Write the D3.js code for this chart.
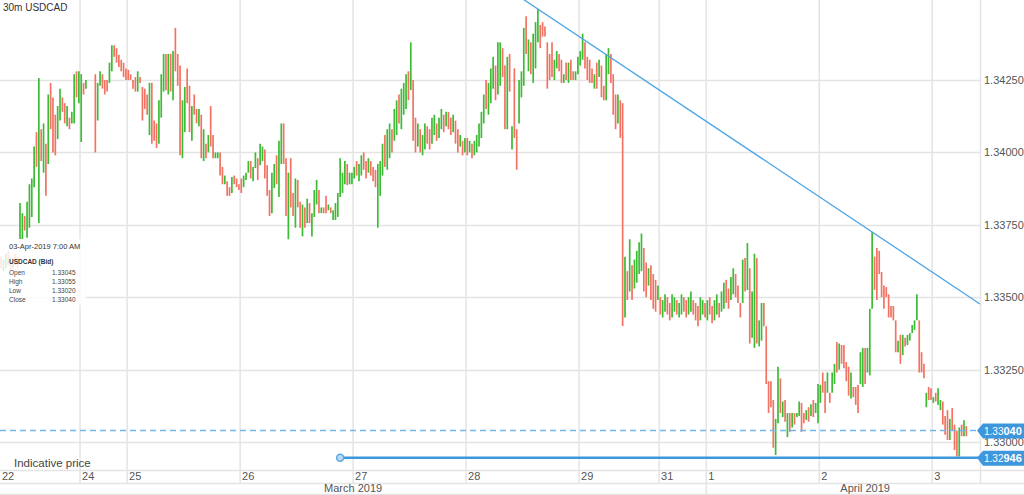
<!DOCTYPE html>
<html>
<head>
<meta charset="utf-8">
<script src="https://cdn.jsdelivr.net/npm/d3@7"></script>
<style>
  body { margin: 0; background: #fff; }
  svg { display: block; font-family: "Liberation Sans", Arial, sans-serif; }
</style>
</head>
<body>
<div id="chart"></div>
<script>
// 30m USDCAD bars, one array per trading day.
// each bar: [low, high, 'g' up / 'r' down], prices in pips above 1.3300
const mar22 = [
  [60,64,'r'],[59,63,'g'],[60,65,'g'],[61,66,'r'],[59,64,'r'],[60,63,'g'],[61,65,'r'],[60,64,'r'],
  [70,82.5,'g'],[70,79,'g'],[73,78,'r'],[70.5,83,'g'],[74,89,'g'],[77.7,91,'g'],[88,102,'g'],[95,107,'r'],
  [75.6,125.7,'g'],[97,108,'r'],[93,110,'g'],[85,103,'r'],[96,120,'g'],[108,124,'r'],[100,119,'r'],[99,113,'r'],
  [104.6,116,'g'],[111,122,'g'],[114,119,'r'],[110,117,'r'],[109,116,'g'],[108,112,'r'],[110,114,'g'],[110,127,'g'],
  [119,128,'r'],[117,128,'g']
];
const mar24 = [
  [103.6,127,'g'],[120,124,'r'],[122,125,'g'],null,null,null,
  [100,127,'r'],[111,124,'g'],[123,128,'g'],[122,127,'r'],[120,125,'r'],[121,125,'r'],[124,131,'g'],[128,137,'g'],
  [133,137,'r'],[131,136,'r'],[129.5,133.7,'r'],[128,132,'r'],[126,131,'r'],[125,129,'r']
];
const mar25 = [
  [125,128.5,'r'],[125,127,'r'],[122,125,'r'],[121,126,'r'],[121,128,'g'],[124,126,'r'],[111,122.6,'r'],[115,122,'r'],
  [113,120,'r'],[106,124,'g'],[103,124,'r'],[104,111,'r'],[101.5,110,'r'],[103,118,'g'],[112,127,'g'],[121,134,'g'],
  [121.5,134,'r'],[120,134,'g'],[121,134,'r'],[118,135,'g'],[128,143,'r'],[123,134,'r'],[99,130,'r'],[98,118,'g'],
  [107,122.6,'g'],[117,129,'r'],[107,123,'r'],[104,116,'g'],[113,120,'r'],[110,115,'r'],[109,115,'g'],[98,113,'r'],
  [97,108,'g'],[98,103,'r'],[100,106,'g'],[102,116,'r'],[98,106,'r'],[98,100,'g'],[98,100,'g'],[92,100,'r'],
  [89,95,'r'],[89,92,'g'],[85,90,'r'],[85,88,'r'],[86,91.5,'g'],[89,92,'r'],[88,91,'r'],[87,89,'r']
];
const mar26 = [
  [86,91,'r'],[88,92,'g'],[90.5,93,'g'],[93,97,'g'],[91,97,'r'],[90,95,'g'],[94.6,100,'g'],[90.5,98,'r'],
  [95.6,103,'g'],[97,102,'g'],[91,101,'r'],[85,95.6,'r'],[78,87,'r'],[79,93,'g'],[87.7,96,'g'],[89,99,'r'],
  [84.6,104,'g'],[96,110,'g'],[96,110,'r'],[78,98,'r'],[70,93,'g'],[81,98,'r'],[78,86,'r'],[74,91,'g'],
  [81,90.5,'r'],[74,83,'r'],[71,82,'g'],[74,81,'r'],[75.6,84,'g'],[75.6,82.5,'r'],[71,79,'g'],[77.7,87,'g'],
  [82,90.5,'g'],[79,87,'r'],[79,81,'g'],[79,81,'r'],[79,85,'r'],[80,82,'g'],[79,81,'r'],[76.7,80,'g'],
  [76.7,82.5,'g'],[77.7,86,'g'],[84.6,98,'g'],[86,93,'g'],[89,97,'g'],[88.7,96,'r'],[89,93,'g'],[89,93,'g']
];
const mar27 = [
  [91,95,'g'],[92,97,'r'],[90,96,'g'],[92,99,'g'],[94,100,'r'],[91,97,'r'],[93,98,'g'],[92,97,'r'],
  [90,95,'r'],[88,94,'r'],[74,96,'g'],[85,97,'g'],[92,103,'g'],[95,106,'r'],[94,108,'g'],[98,110,'g'],
  [100,108,'r'],[104,115,'g'],[106,118,'g'],[110,120,'r'],[108,122,'g'],[113,124,'g'],[115,127,'g'],[118,128,'r'],
  [121.5,138,'g'],[104,125,'r'],[100,112,'r'],[102,110,'g'],[100,108,'r'],[99,106,'g'],[101,110,'g'],[103,109,'r'],
  [101,108,'r'],[103,112,'g'],[106,113,'g'],[104,110,'r'],[105,112,'g'],[108,115,'g'],[107,113,'r'],[109,114,'g'],
  [108,114,'r'],[106,112,'r'],[107,113,'g'],[103,111,'r'],[100,108,'r'],[102,106,'g'],[99,104,'r'],[100,105,'g']
];
const mar28 = [
  [99,105,'r'],[100,104,'g'],[98,103,'r'],[99,104,'g'],[100,106,'g'],[102,110,'g'],[105,114,'g'],[110,120,'g'],
  [115,125,'r'],[113,124,'g'],[117,129,'g'],[122,133,'g'],[118,130,'r'],[120,138,'g'],
  [123,138,'g'],[126,136,'r'],[108,130,'r'],[108,133,'g'],[121,134,'r'],[101,109,'g'],[105,129,'r'],[94,108,'r'],
  [110,125,'g'],[119,128,'g'],[123,143,'g'],[134,147,'r'],[128,139,'g'],[127,138,'r'],[124,141,'g'],[129,145,'g'],
  [138,149.5,'g'],[136,144,'r'],[140,145,'r'],[140,143.5,'r'],[122,138,'r'],[125,134,'r'],[126,138,'r'],[125,132,'g'],
  [129,135,'g'],[128,134,'r'],[124,132,'r'],[124,127,'g'],[125,131,'r'],[124,131,'g'],[125,132,'r'],[125,128,'r'],
  [125,128,'g'],[127,133,'g']
];
const mar29 = [
  [130,135,'g'],[132,141,'g'],[129,138,'r'],[125,133,'r'],[124,132,'r'],[124,129,'r'],[122,127,'g'],[122,131,'r'],
  [126,132,'g'],[119,130,'r'],[118,123,'r'],[118,134,'g'],[127,136,'g'],[124,134,'r'],[113,127,'r'],[108,120,'r'],
  [110,120,'g'],[105,118,'r'],[40,117,'r'],[43,64,'g'],[49,59,'r'],[52,70,'g'],[49,61,'r'],[53,63,'g'],
  [55,66,'g'],[58,69,'g'],[59,72,'g'],[52,67,'r'],[50,62,'r'],[54,60,'g'],[49,61,'r'],[46,58,'r'],
  [45,56,'r'],[49,54,'g']
];
const mar31 = [
  [44,50,'r'],[43,49,'g'],[45,51,'g'],[44,50,'r'],[42,48,'r'],[43,51,'g'],[45,50,'g'],[44,49,'r'],
  [43,48,'g'],[44,51,'g'],[45,50,'r'],[43,49,'r'],[44,50,'g'],[45,52,'g'],[44,49,'r'],[42,48,'r'],
  [40,47,'r'],[42,50,'g'],[44,49,'g'],[43,48,'r']
];
const apr01 = [
  [42,49,'g'],[44,50,'r'],[41,47,'r'],[42,49,'g'],[44,51,'g'],[43,48,'r'],[45,52,'g'],[46,55,'g'],
  [48,56,'r'],[46,53,'r'],[49,57,'g'],[51,60,'g'],[50,58,'r'],[48,54,'r'],
  [43,48,'r'],[48,63,'g'],[52,63.5,'r'],[52.5,68.7,'g'],[34,60,'r'],[36,52,'g'],[32.5,65,'g'],[34,63.5,'r'],
  [33,42,'g'],[35,48,'g'],[40,48,'r'],[20,40,'r'],[10,21,'r'],[12,21,'r'],[-2,14.5,'r'],[-4.5,8,'g'],
  [6.5,26,'g'],[10,22,'r'],[8.6,14,'g'],[7,14.5,'r'],[1.7,10,'g'],[3.5,10,'r'],[5,10,'g'],[6,10,'r'],
  [8.6,10,'g'],[9,14,'g'],[3.5,13.5,'r'],[6.5,10,'r'],[7.6,11,'g'],[7,12,'r'],[9,13,'g'],[8.6,14.5,'r'],
  [10,13.5,'g'],[6.5,20,'g']
];
const apr02 = [
  [13.5,19.7,'g'],[17,24,'r'],[10,21,'r'],[17,24,'g'],[13.5,17,'r'],[17,24,'g'],[20,27,'g'],[24,34.5,'r'],
  [25,34,'g'],[27,33.5,'r'],[25.5,33.5,'r'],[21,27.6,'r'],[16,26,'r'],[15,24,'g'],[15.5,19,'r'],[12.8,19,'r'],
  [10,19.7,'r'],[20,31,'g'],[19,32.5,'g'],[20,32.5,'r'],[24,32.5,'g'],[23,46,'g'],[46,72.5,'g'],[52.5,64,'r'],
  [49,67,'r'],[58,66,'r'],[50,58.7,'r'],[46,54,'r'],[50,53.5,'r'],[43,51,'r'],[43,47,'r'],[42,47,'r'],
  [31,42,'r'],[31,35,'g'],[27,37,'r'],[30,37,'g'],[33,36,'r'],[33.5,37,'g'],[35,37.6,'g'],[37.6,40.4,'g'],
  [38.7,42,'g'],[42,51,'g'],[24,42,'r'],[24,31,'r'],[22,27,'r'],[12,17,'g'],[14.5,19,'r'],[14.5,18.6,'r']
];
const apr03 = [
  [13.5,15.5,'g'],[14,17,'r'],[12.8,18.6,'g'],[11,14.5,'g'],[6,14,'r'],[2.5,9,'r'],[0.7,11,'r'],[0.7,8,'g'],
  [4,11.7,'r'],[-2.8,6,'r'],[-5,4,'r'],[-5,5,'g'],[2,6,'r'],[2,7.5,'g'],[2,5.5,'r']
];

const dayLabels = ["22", "24", "25", "26", "27", "28", "29", "31", "1", "2", "3"];
const dayBars = [mar22, mar24, mar25, mar26, mar27, mar28, mar29, mar31, apr01, apr02, apr03];
const monthLabels = [{ label: "March 2019", fromDay: 0, toDay: 8 }, { label: "April 2019", fromDay: 8, toDay: 11 }];
const priceTicks = [1.3425, 1.34, 1.3375, 1.335, 1.3325, 1.33];

const lastPrice = 1.3304;
const indicativePrice = 1.32946;
const indicativeStartSlot = 144.5;
const trendPoints = [[228, 1.34495], [370, 1.33725]];
const lastBar = { time: "03-Apr-2019 7:00 AM", name: "USDCAD (Bid)", rows: [["Open", "1.33045"], ["High", "1.33055"], ["Low", "1.33020"], ["Close", "1.33040"]] };

const W = 1024, H = 495;
const plotRight = 980, plotBottom = 470;
const green = "#3dbb34", red = "#f27363", grid = "#e4e4e4", blue = "#3d97dd";

// flatten bars onto slot index
let bars = [], dayStarts = [], slot = 0;
dayBars.forEach(arr => {
    dayStarts.push(slot);
    arr.forEach((b, j) => {
        if (b) bars.push({ slot: slot + j, lo: b[0], hi: b[1], up: b[2] === 'g' });
    });
    slot += arr.length;
});
dayStarts.push(slot);
const totalSlots = slot;

const pip = v => 1.33 + v / 10000;

const x = d3.scaleLinear().domain([0, totalSlots]).range([0, 967.5]);
const y = d3.scaleLinear().domain([1.33, 1.3425]).range([442, 80]);

const svg = d3.select("#chart").append("svg")
    .attr("width", W)
    .attr("height", H);

svg.append("defs").append("clipPath").attr("id", "plotClip")
    .append("rect").attr("x", 0).attr("y", 0).attr("width", plotRight).attr("height", plotBottom);

// horizontal grid
svg.append("g").selectAll("line").data(priceTicks).join("line")
    .attr("x1", 0).attr("x2", plotRight)
    .attr("y1", d => Math.round(y(d)) + 0.5).attr("y2", d => Math.round(y(d)) + 0.5)
    .attr("stroke", grid).attr("stroke-width", 1.5);

// day grid lines, running through the day label row
svg.append("g").selectAll("line").data(dayStarts.slice(1, -1)).join("line")
    .attr("x1", d => x(d)).attr("x2", d => x(d))
    .attr("y1", 0).attr("y2", 483)
    .attr("stroke", grid).attr("stroke-width", 1.5);

// axis frame lines
[plotBottom, 483, 494].forEach(yy => {
    svg.append("line").attr("x1", 0).attr("x2", W).attr("y1", yy + 0.5).attr("y2", yy + 0.5)
        .attr("stroke", grid).attr("stroke-width", 1.5);
});
svg.append("line").attr("x1", plotRight + 0.5).attr("x2", plotRight + 0.5).attr("y1", 0).attr("y2", 483)
    .attr("stroke", grid).attr("stroke-width", 1.5);
svg.append("line").attr("x1", x(dayStarts[8])).attr("x2", x(dayStarts[8])).attr("y1", 483).attr("y2", 494)
    .attr("stroke", grid).attr("stroke-width", 1.5);

const plot = svg.append("g").attr("clip-path", "url(#plotClip)");

// bars
plot.append("g").selectAll("line").data(bars).join("line")
    .attr("x1", d => x(d.slot + 0.5)).attr("x2", d => x(d.slot + 0.5))
    .attr("y1", d => y(pip(d.lo))).attr("y2", d => y(pip(d.hi)))
    .attr("stroke", d => d.up ? green : red)
    .attr("stroke-width", 1.7);

// last price dashed line
plot.append("line")
    .attr("x1", 0).attr("x2", plotRight)
    .attr("y1", y(lastPrice)).attr("y2", y(lastPrice))
    .attr("stroke", "#72b6ea").attr("stroke-width", 1.5)
    .attr("stroke-dasharray", "6,4");

// trend line
const [p0, p1] = trendPoints.map(p => [x(p[0] + 0.5), y(p[1])]);
const slope = (p1[1] - p0[1]) / (p1[0] - p0[0]);
plot.append("line")
    .attr("x1", 0).attr("y1", p0[1] - slope * p0[0])
    .attr("x2", plotRight).attr("y2", p0[1] + slope * (plotRight - p0[0]))
    .attr("stroke", "#4ea6e4").attr("stroke-width", 1.3);

// indicative price line
plot.append("line")
    .attr("x1", x(indicativeStartSlot)).attr("x2", plotRight)
    .attr("y1", y(indicativePrice)).attr("y2", y(indicativePrice))
    .attr("stroke", blue).attr("stroke-width", 2.5);
plot.append("circle")
    .attr("cx", x(indicativeStartSlot)).attr("cy", y(indicativePrice)).attr("r", 3.5)
    .attr("fill", "#b9dbf5").attr("stroke", "#5aa9e6").attr("stroke-width", 1.5);

svg.append("text")
    .attr("x", 14).attr("y", 467)
    .attr("font-size", 11.5).attr("fill", "#444")
    .text("Indicative price");

// right axis labels
svg.append("g").selectAll("text").data(priceTicks).join("text")
    .attr("x", 984).attr("y", d => y(d) + 4)
    .attr("font-size", 11).attr("fill", "#555")
    .text(d => d.toFixed(5));

// price tags
function priceTag(price) {
    const s = price.toFixed(5);
    const cy = y(price);
    const g = svg.append("g");
    g.append("path")
        .attr("d", `M${plotRight - 3},${cy} L${plotRight + 3},${cy - 7} L${W},${cy - 7} L${W},${cy + 8} L${plotRight + 3},${cy + 8} Z`)
        .attr("fill", blue);
    const t = g.append("text").attr("x", 984).attr("y", cy + 4.5).attr("fill", "#fff");
    t.append("tspan").attr("font-size", 10).text(s.slice(0, 4));
    t.append("tspan").attr("font-size", 11).attr("font-weight", "bold").text(s.slice(4));
}
priceTag(lastPrice);
priceTag(indicativePrice);

// day labels
svg.append("g").selectAll("text").data(dayLabels).join("text")
    .attr("x", (d, i) => x(dayStarts[i]) + 2).attr("y", 480)
    .attr("font-size", 11).attr("fill", "#555")
    .text(d => d);

// month labels
svg.append("g").selectAll("text").data(monthLabels).join("text")
    .attr("x", d => d.toDay === 11 ? (x(dayStarts[d.fromDay]) + W) / 2 : (x(dayStarts[d.fromDay]) + x(dayStarts[d.toDay])) / 2)
    .attr("y", 492).attr("text-anchor", "middle")
    .attr("font-size", 11).attr("fill", "#555")
    .text(d => d.label);

// title
svg.append("text")
    .attr("x", 3).attr("y", 11)
    .attr("font-size", 10).attr("fill", "#333")
    .text("30m  USDCAD");

// hover info box
const info = svg.append("g").attr("transform", "translate(0,239)");
info.append("rect").attr("width", 86).attr("height", 66).attr("fill", "#fff").attr("opacity", 0.82);
info.append("text").attr("x", 9).attr("y", 10)
    .attr("font-size", 7.5).attr("fill", "#333").text(lastBar.time);
info.append("text").attr("x", 9).attr("y", 25)
    .attr("font-size", 6.5).attr("font-weight", "bold").attr("fill", "#333").text(lastBar.name);
lastBar.rows.forEach((r, i) => {
    info.append("text").attr("x", 9).attr("y", 36 + i * 9)
        .attr("font-size", 6.5).attr("fill", "#444").text(r[0]);
    info.append("text").attr("x", 52).attr("y", 36 + i * 9)
        .attr("font-size", 6.5).attr("fill", "#444").text(r[1]);
});
</script>
</body>
</html>
